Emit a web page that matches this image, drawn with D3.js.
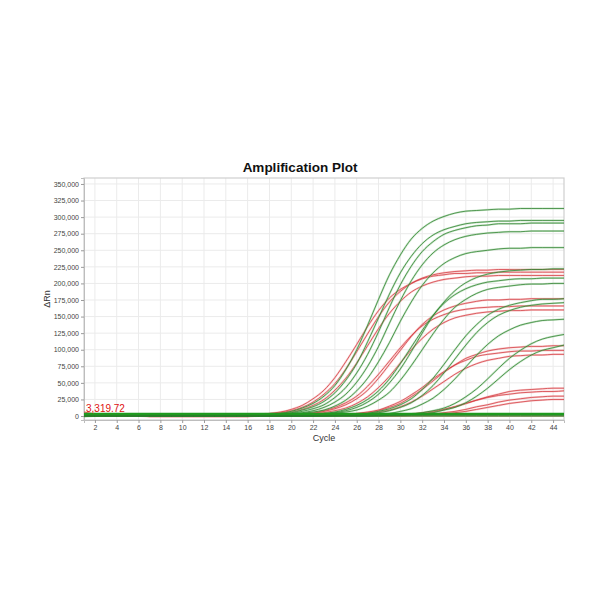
<!DOCTYPE html>
<html><head><meta charset="utf-8">
<script src="https://cdn.jsdelivr.net/npm/d3@7"></script>
<style>body{margin:0;background:#fff}svg{display:block}</style>
</head><body><svg id="c" width="600" height="600"></svg>
<script>
const cycles = d3.range(1, 46);
const yTicks = d3.range(0, 350001, 25000);
const xTicks = d3.range(2, 45, 2);
const threshold = 3319.72;
const thresholdLabel = "3,319.72";
const titleText = "Amplification Plot";
const xLabel = "Cycle";
const yLabel = "\u0394Rn";

// ΔRn per cycle, in thousands (cycles 1..45)
const red1a = [0,0,0,0,0, 0,0,0,0,0, 0,0,0,0, 1,1,2,3,5,8,13,21,33,49,71,97,124,150,172,188,200,208,213,216,218,219,220,220, 221,221,221,221,221,221,221];
const red1b = [0,0,0,0,0, 0,0,0,0,0, 0,0,0, 1,1,1,2,4,6,10,16,26,39,58,82,108,135,159,178,191,200,207,211,213,215,215,216,216, 217,217,217,217,217,217,217];
const red1c = [0,0,0,0,0, 0,0,0,0,0, 0,0,0,0, 1,1,1,2,4,6,10,16,25,39,57,80,106,132,155,173,187,196,202,206,208,210,211,211, 212,212,212,212,212,212,212];
const red2a = [0,0,0,0,0, 0,0,0,0,0, 0,0,0,0,0, 0,0, 1,1,2,2,4,7,11,17,26,39,57,78,99,120,138,151,160,166,170,173,175,175,176,176, 177,177,177,177];
const red2b = [0,0,0,0,0, 0,0,0,0,0, 0,0,0,0,0, 0,0, 1,1,2,3,5,8,13,20,30,45,63,83,103,121,136,146,153,158,161,163,164,165,165, 166,166,166,166,166];
const red2c = [0,0,0,0,0, 0,0,0,0,0, 0,0,0,0,0, 0,0,0, 1,1,2,3,5,8,12,19,29,43,60,80,100,117,131,141,148,152,155,157,158,159,159, 160,160,160,160];
const red3a = [0,0,0,0,0, 0,0,0,0,0, 0,0,0,0,0, 0,0,0,0,0, 0,0, 1,1,2,3,5,8,13,19,29,40,53,66,77,87,93,98,101,103,104,105,105,106,106];
const red3b = [0,0,0,0,0, 0,0,0,0,0, 0,0,0,0,0, 0,0,0,0,0, 0, 1,1,1,2,4,6,9,15,22,32,43,56,67,77,84,90,93,95,97,98,98,99,99,99];
const red3c = [0,0,0,0,0, 0,0,0,0,0, 0,0,0,0,0, 0,0,0,0,0, 0,0,0, 1,1,2,3,6,9,14,21,30,41,52,63,72,79,84,87,90,91,92,92,93,93];
const red4a = [0,0,0,0,0, 0,0,0,0,0, 0,0,0,0,0, 0,0,0,0,0, 0,0,0,0,0, 0,0, 1,1,2,3,4,6,10,14,19,24,29,33,37,39,40,41,42,42];
const red4b = [0,0,0,0,0, 0,0,0,0,0, 0,0,0,0,0, 0,0,0,0,0, 0,0,0,0,0, 0,0, 1,1,2,3,5,7,10,14,19,24,28,31,33,35,36,37,37,38];
const red4c = [0,0,0,0,0, 0,0,0,0,0, 0,0,0,0,0, 0,0,0,0,0, 0,0,0,0,0, 0,0,0,0, 1,1,2,3,5,7,10,14,17,21,24,26,28,29,30,30];
const red4d = [0,0,0,0,0, 0,0,0,0,0, 0,0,0,0,0, 0,0,0,0,0, 0,0,0,0,0, 0,0,0,0,0, 1,1,2,3,5,7,10,13,16,19,21,23,24,25,25];

const green1a = [0,0,0,0,0, 0,0,0,0,0, 0,0,0,0, 1,1,2,3,4,7,12,19,30,46,70,100,137,176,213,243,267,283,294,301,306,309,310,311,312,312, 313,313,313,313,313];
const green1b = [0,0,0,0,0, 0,0,0,0,0, 0,0,0,0,0, 1,1,2,3,5,9,14,22,35,54,79,112,148,184,216,241,260,273,281,286,290,292,293,294,294,295, 295,295,295,295];
const green1c = [0,0,0,0,0, 0,0,0,0,0, 0,0,0,0,0, 1,1,2,3,4,7,11,17,28,43,65,93,127,164,198,226,248,263,274,280,284,287,288,290,290,290, 291,291,291,291];
const green1d = [0,0,0,0,0, 0,0,0,0,0, 0,0,0,0,0, 0, 1,1,2,3,5,8,13,21,33,51,75,105,140,174,204,228,246,258,266,271,274,276,277,278,278,279, 279,279,279];
const green1e = [0,0,0,0,0, 0,0,0,0,0, 0,0,0,0,0, 0,0, 1,1,2,4,6,9,15,24,38,57,82,111,143,172,197,216,230,239,245,248,250,252,253,253, 254,254,254,254];
const green2a = [0,0,0,0,0, 0,0,0,0,0, 0,0,0,0,0, 0,0,0,0, 1,1,2,3,5,8,13,21,33,50,71,97,125,151,172,189,201,209,214,217,219,220,221,221,222,222];
const green2b = [0,0,0,0,0, 0,0,0,0,0, 0,0,0,0,0, 0,0,0, 1,1,1,2,4,6,10,16,25,38,56,79,104,129,152,170,183,192,198,202,204,206,207,207,208,208,208];
const green2c = [0,0,0,0,0, 0,0,0,0,0, 0,0,0,0,0, 0,0,0,0,0, 1,1,2,4,6,9,15,24,36,54,76,100,124,146,164,176,185,191,194,196,198,199,199,200,200];
const green3a = [0,0,0,0,0, 0,0,0,0,0, 0,0,0,0,0, 0,0,0,0,0, 0,0, 1,1,2,2,4,7,11,17,26,40,57,78,100,121,138,152,161,167,171,174,176,176,177];
const green3b = [0,0,0,0,0, 0,0,0,0,0, 0,0,0,0,0, 0,0,0,0,0, 0,0,0, 1,1,2,3,5,8,13,20,31,46,65,86,107,126,141,152,159,164,167,169,170,171];
const green3c = [0,0,0,0,0, 0,0,0,0,0, 0,0,0,0,0, 0,0,0,0,0, 0,0,0,0, 1,1,2,3,4,7,11,18,27,40,56,74,92,108,121,130,137,141,144,145,146];
const green4a = [0,0,0,0,0, 0,0,0,0,0, 0,0,0,0,0, 0,0,0,0,0, 0,0,0,0,0, 0,0, 1,1,2,3,5,8,12,19,29,41,56,72,87,99,109,116,120,123];
const green4b = [0,0,0,0,0, 0,0,0,0,0, 0,0,0,0,0, 0,0,0,0,0, 0,0,0,0,0, 0,0,0, 1,1,2,3,5,9,13,20,30,42,56,70,82,92,99,103,107];
const greenFlat1 = [2,2,1,1,1, 1,1,1,1,1, 1,1,1,1,1, 1,1,1,1,1, 1,1,1,1,1, 1,1,1,1,1, 1,1,1,1,1, 1,1,1,1,1, 1,1,1,1,1];
const greenFlat2 = [-1,0,0,0,0, 0,0,0,0,0, 0,0,0,0,0, 0,0,0,0,0, 0,0,0,0,0, 0,0,0,0,0, 0,0,0,0,0, 0,0,0,0,0, 0,0,0,0,0];
const redFlat1 = [6,3,1,0,0, 0,-1,-1,-1,-1, -1,-1,-1,-1,-1, -1,0,0,0,0, 0,0,0,0,0, 0,0,0,0,0, 0,0,0,0,0, 0,0,0,0,0, 0,0,0,0,0];

const redSeries = [redFlat1, red1a, red1b, red1c, red2a, red2b, red2c, red3a, red3b, red3c, red4a, red4b, red4c, red4d];
const greenSeries = [greenFlat1, greenFlat2, green1a, green1b, green1c, green1d, green1e, green2a, green2b, green2c, green3a, green3b, green3c, green4a, green4b];

[...redSeries, ...greenSeries].forEach((s, i) => { if (s.length !== cycles.length) throw new Error("series " + i + " length " + s.length); });

const L = 84, R = 564, T = 178, B = 420;
const svg = d3.select("#c");
const x = d3.scaleLinear().domain([1, 45]).range([L, R]);
const y = d3.scaleLinear().domain([-6000, 359000]).range([B, T]);

svg.append("defs").append("clipPath").attr("id", "clip")
  .append("rect").attr("x", L).attr("y", T).attr("width", R - L).attr("height", B - T);

// grid
const grid = svg.append("g");
grid.selectAll(".gx").data(xTicks).join("line")
  .attr("x1", d => x(d)).attr("x2", d => x(d)).attr("y1", T).attr("y2", B)
  .attr("stroke", "#ebebeb").attr("stroke-width", 1);
grid.selectAll(".gy").data(yTicks).join("line")
  .attr("x1", L).attr("x2", R).attr("y1", d => y(d)).attr("y2", d => y(d))
  .attr("stroke", "#ebebeb").attr("stroke-width", 1);

// frame
svg.append("rect").attr("x", L).attr("y", T).attr("width", R - L).attr("height", B - T)
  .attr("fill", "none").attr("stroke", "#cfcfcf").attr("stroke-width", 1.2);

// axes
const yAxis = svg.append("g").attr("transform", `translate(${L},0)`)
  .call(d3.axisLeft(y).tickValues(yTicks).tickFormat(d3.format(",")).tickSize(3).tickPadding(2));
const xAxis = svg.append("g").attr("transform", `translate(0,${B})`)
  .call(d3.axisBottom(x).tickValues(xTicks).tickFormat(d3.format("d")).tickSize(3).tickPadding(2));
[yAxis, xAxis].forEach(a => {
  a.select(".domain").attr("stroke", "#bdbdbd");
  a.selectAll(".tick line").attr("stroke", "#9a9a9a");
  a.selectAll("text").attr("fill", "#444").style("font-family", "Liberation Sans, Arial, sans-serif").style("font-size", "7px");
});

// curves
const line = d3.line().x((d, i) => x(cycles[i])).y(d => y(d * 1000)).curve(d3.curveMonotoneX);
const plot = svg.append("g").attr("clip-path", "url(#clip)");

function drawSet(series, halo, core) {
  const g = plot.append("g");
  g.selectAll(".h").data(series).join("path").attr("d", line)
    .attr("fill", "none").attr("stroke", halo).attr("stroke-width", 2).attr("stroke-opacity", 0.4);
  g.selectAll(".c").data(series).join("path").attr("d", line)
    .attr("fill", "none").attr("stroke", core).attr("stroke-width", 0.85).attr("stroke-opacity", 0.9);
}
drawSet(redSeries, "#f08a8c", "#d23a3f");
drawSet(greenSeries, "#7fc47f", "#2c7f2c");

// threshold
plot.append("line").attr("x1", L).attr("x2", R).attr("y1", y(threshold)).attr("y2", y(threshold))
  .attr("stroke", "#1f9a1f").attr("stroke-width", 2.2);
svg.append("text").attr("x", L + 2).attr("y", y(threshold) - 2)
  .attr("fill", "#e01010").style("font-family", "Liberation Sans, Arial, sans-serif")
  .style("font-size", "10px").text(thresholdLabel);

// titles
svg.append("text").attr("x", 300).attr("y", 172).attr("text-anchor", "middle")
  .style("font-family", "Liberation Sans, Arial, sans-serif").style("font-weight", "bold")
  .style("font-size", "13.5px").attr("fill", "#111").text(titleText);
svg.append("text").attr("x", (L + R) / 2).attr("y", 441).attr("text-anchor", "middle")
  .style("font-family", "Liberation Sans, Arial, sans-serif").style("font-size", "9px")
  .attr("fill", "#333").text(xLabel);
svg.append("text").attr("transform", `translate(50,${(T + B) / 2}) rotate(-90)`).attr("text-anchor", "middle")
  .style("font-family", "Liberation Sans, Arial, sans-serif").style("font-size", "9px")
  .attr("fill", "#333").text(yLabel);
</script>
</body></html>
